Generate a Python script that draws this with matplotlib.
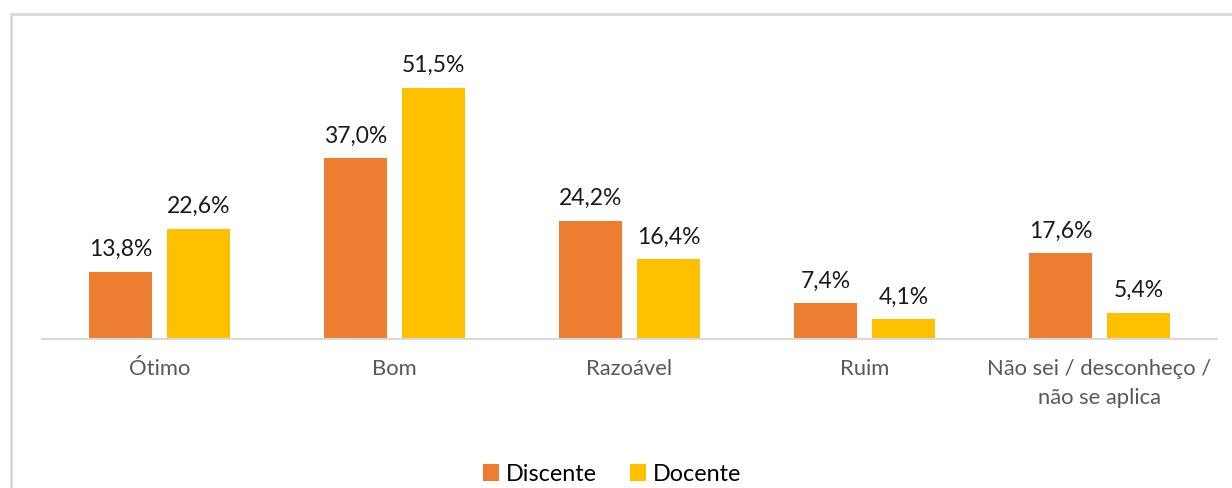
import matplotlib
matplotlib.use("Agg")
import matplotlib.pyplot as plt
from matplotlib.patches import Rectangle
import numpy as np

plt.rcParams["font.family"] = ["Lato", "DejaVu Sans"]

categories = ["Ótimo", "Bom", "Razoável", "Ruim", "Não sei / desconheço /\nnão se aplica"]
discente = [13.8, 37.0, 24.2, 7.4, 17.6]
docente = [22.6, 51.5, 16.4, 4.1, 5.4]
series = [("Discente", discente, "#ED7D31"), ("Docente", docente, "#FFC000")]

fig = plt.figure(figsize=(12.32, 4.89), dpi=100)
ax = fig.add_axes([42 / 1232, 149 / 489, 1175 / 1232, 293 / 489])

# light frame around the chart area, running off the right and bottom edges
fig.patches.append(Rectangle((10.5 / 1232, -0.1), 1.2, (489 - 15) / 489 + 0.1,
                             transform=fig.transFigure, fill=False,
                             edgecolor="#d9d9d9", linewidth=2.0))

x = np.arange(len(categories))
width = 0.268
offset = 0.166
for i, (name, vals, color) in enumerate(series):
    pos = x + (offset if i else -offset)
    bars = ax.bar(pos, vals, width, color=color, label=name, zorder=2)
    for b, v in zip(bars, vals):
        ax.annotate(f"{v:.1f}%".replace(".", ","),
                    (b.get_x() + b.get_width() / 2, v),
                    xytext=(0, 9), textcoords="offset points",
                    ha="center", va="bottom", fontsize=16.5, color="#1a1a1a")

ax.set_xlim(-0.5, len(categories) - 0.5)
ax.set_ylim(0, 60)
ax.set_yticks([])
ax.set_xticks(x)
ax.set_xticklabels(categories, fontsize=15.8, color="#595959", linespacing=1.55)
ax.tick_params(axis="x", length=0, pad=14)
for side in ("top", "left", "right"):
    ax.spines[side].set_visible(False)
ax.spines["bottom"].set_color("#d9d9d9")
ax.spines["bottom"].set_linewidth(1.5)
ax.spines["bottom"].set_zorder(3)

fig.legend(loc="center", bbox_to_anchor=(612 / 1232, 1 - 475 / 489), ncol=2,
           frameon=False, fontsize=16.8, handlelength=0.7, handleheight=0.7,
           handletextpad=0.3, columnspacing=1.4)

fig.savefig("out.png", dpi=100)
